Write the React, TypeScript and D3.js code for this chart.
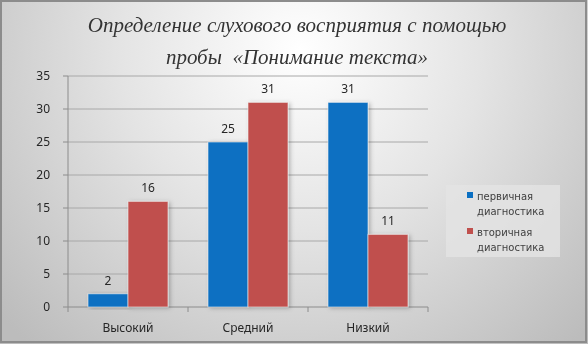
import React from "react";
import * as d3 from "d3";

const categories = ["Высокий", "Средний", "Низкий"];
const seriesNames = ["первичная диагностика", "вторичная диагностика"];
const primary = [2, 25, 31];
const secondary = [16, 31, 11];
const yTicks = [0, 5, 10, 15, 20, 25, 30, 35];
const titleLines = ["Определение слухового восприятия с помощью", "пробы  «Понимание текста»"];
const colors = ["#0a6fc2", "#c0504d"];

const W = 588, H = 344;
const plot = { left: 68, right: 428, top: 76, bottom: 307 };

export default function App() {
  const x0 = d3.scaleBand<string>().domain(categories).range([plot.left, plot.right]).paddingInner(0).paddingOuter(0);
  const x1 = d3.scaleBand<number>().domain([0, 1]).range([0, x0.bandwidth()]).paddingOuter(0.5).paddingInner(0);
  const y = d3.scaleLinear().domain([0, 35]).range([plot.bottom, plot.top]);
  const series = [primary, secondary];
  const font = "'Noto Sans', 'DejaVu Sans', sans-serif";
  const tickPos = [...categories.map((c) => x0(c)!), plot.right];

  return (
    <div style={{ position: "fixed", left: 0, top: 0 }}>
      <svg width={W} height={H} style={{ display: "block" }}>
        <defs>
          <radialGradient id="bg" gradientUnits="userSpaceOnUse" cx={300} cy={50} r={400}>
            <stop offset="0" stopColor="#ffffff" />
            <stop offset="0.45" stopColor="#e4e4e4" />
            <stop offset="1" stopColor="#bcbcbc" />
          </radialGradient>
          <filter id="sh" x="-20%" y="-20%" width="140%" height="140%">
            <feDropShadow dx="2" dy="1" stdDeviation="2" floodColor="#000" floodOpacity="0.25" />
          </filter>
        </defs>
        <rect x={0} y={0} width={W} height={H} fill="url(#bg)" />
        <rect x={1} y={1} width={W - 3} height={H - 3} fill="none" stroke="#8c8c8c" strokeWidth={2} />

        {titleLines.map((t, i) => (
          <text key={i} x={297} y={32 + i * 32} textAnchor="middle" fontFamily="'Liberation Serif', serif" fontStyle="italic" fontSize={21} fill="#333" style={{ whiteSpace: "pre" }}>
            {t}
          </text>
        ))}

        {yTicks.map((v) => (
          <g key={v}>
            {v > 0 && <line x1={plot.left} x2={plot.right} y1={y(v)} y2={y(v)} stroke="#a8a8a8" strokeWidth={1} />}
            <line x1={plot.left - 5} x2={plot.left} y1={y(v)} y2={y(v)} stroke="#8c8c8c" />
            <text x={plot.left - 18} y={y(v)} dy="0.35em" textAnchor="end" fontFamily={font} fontSize={12} fill="#262626">
              {v}
            </text>
          </g>
        ))}
        <line x1={plot.left} x2={plot.left} y1={plot.top} y2={plot.bottom} stroke="#8c8c8c" />
        <line x1={plot.left} x2={plot.right} y1={plot.bottom} y2={plot.bottom} stroke="#8c8c8c" />
        {tickPos.map((p, i) => (
          <line key={i} x1={p} x2={p} y1={plot.bottom} y2={plot.bottom + 5} stroke="#8c8c8c" />
        ))}

        {categories.map((c, ci) => (
          <g key={c}>
            {series.map((s, si) => {
              const bx = x0(c)! + x1(si)!;
              const by = y(s[ci]);
              return (
                <g key={si}>
                  <rect x={bx} y={by} width={x1.bandwidth()} height={plot.bottom - by} fill={colors[si]} stroke="#f2f2f2" strokeOpacity={0.6} strokeWidth={1} filter="url(#sh)" />
                  <text x={bx + x1.bandwidth() / 2} y={by - 9} textAnchor="middle" fontFamily={font} fontSize={12} fill="#262626">
                    {s[ci]}
                  </text>
                </g>
              );
            })}
            <text x={x0(c)! + x0.bandwidth() / 2} y={328} dy="0.35em" textAnchor="middle" fontFamily={font} fontSize={12} fill="#262626">
              {c}
            </text>
          </g>
        ))}

        <rect x={446} y={185} width={114} height={72} fill="#e4e4e4" opacity={0.8} />
        {seriesNames.map((n, i) => {
          const [a, b] = n.split(" ");
          const ly = 196 + i * 36;
          return (
            <g key={n}>
              <rect x={467} y={ly - 4} width={6} height={6} fill={colors[i]} />
              <text x={477} y={ly} dy="0.35em" fontFamily="'DejaVu Sans', sans-serif" fontSize={10} fill="#404040">{a}</text>
              <text x={477} y={ly + 15} dy="0.35em" fontFamily="'DejaVu Sans', sans-serif" fontSize={10} fill="#404040">{b}</text>
            </g>
          );
        })}
      </svg>
    </div>
  );
}
